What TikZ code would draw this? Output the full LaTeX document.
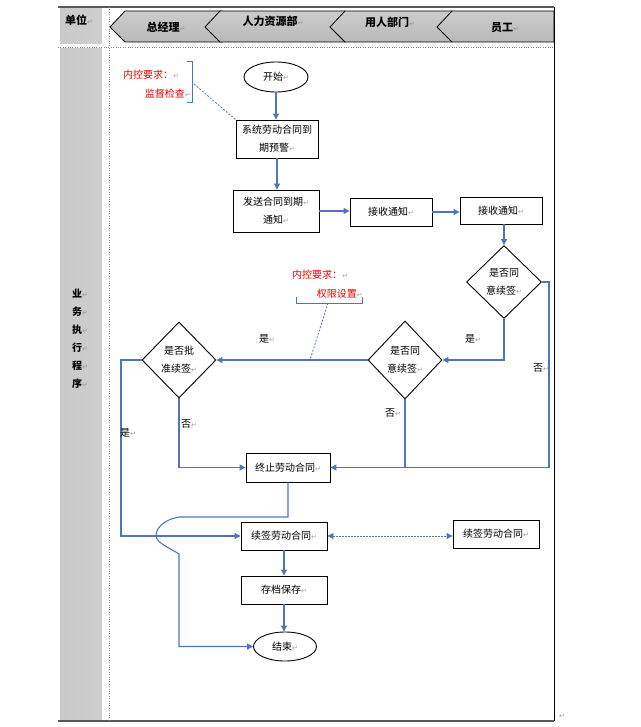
\documentclass[tikz,border=0pt]{standalone}
\usepackage{fontspec}
\setmainfont{Noto Sans CJK SC}
\newfontfamily\arrowfont{DejaVu Sans}
\usetikzlibrary{shapes.geometric,arrows.meta}
\definecolor{flowblue}{RGB}{79,116,190}
\definecolor{notered}{RGB}{240,0,0}
\newcommand{\parmark}{{\arrowfont\fontsize{7}{7}\selectfont\textcolor{gray!75}{↵}}}

\begin{document}
\begin{tikzpicture}[x=1pt,y=-1pt,
  every node/.style={inner sep=0pt, font=\fontsize{10}{18}\selectfont},
  proc/.style={draw=black, line width=0.9pt, rectangle, align=center},
  term/.style={draw=black, line width=0.9pt, ellipse, align=center},
  decide/.style={draw=black, line width=0.9pt, diamond, align=center},
  flow/.style={draw=flowblue, line width=1.1pt, -{Triangle[length=6pt,width=6pt]}},
  link/.style={draw=flowblue, line width=1.1pt},
  hint/.style={draw=flowblue, line width=0.8pt, dash pattern=on 2pt off 1.5pt},
  note/.style={text=notered},
  lane/.style={font=\bfseries\fontsize{11}{18}\selectfont},
  band/.style={left color=gray!42, middle color=gray!6, right color=gray!38},
  chevron/.style={draw=black, line width=0.8pt, top color=gray!40, middle color=gray!6, bottom color=gray!55}]
\useasboundingbox (0,0) rectangle (640,727);

\shade[band] (60,8) rectangle (102,44);
\shade[band] (60,49) rectangle (102,720);
\node[lane] (unit) at (79,20) {单位\parmark};
\node[lane, align=left, anchor=north, font=\bfseries\fontsize{10}{18}\selectfont] (stage) at (80,289)
  {业\parmark\\务\parmark\\执\parmark\\行\parmark\\程\parmark\\序\parmark};

\shadedraw[chevron] (110,27) -- (125,11) -- (222,11) -- (222,42) -- (125,42) -- cycle;
\shadedraw[chevron] (205,27) -- (220,11) -- (345,11) -- (345,42) -- (220,42) -- cycle;
\shadedraw[chevron] (330,27) -- (345,11) -- (452,11) -- (452,42) -- (345,42) -- cycle;
\shadedraw[chevron] (437,27) -- (452,11) -- (554,11) -- (554,42) -- (452,42) -- cycle;
\node[lane] (boss) at (166,27) {总经理\parmark};
\node[lane] (hr) at (273,21) {人力资源部\parmark};
\node[lane] (dept) at (390,22) {用人部门\parmark};
\node[lane] (staff) at (505,28) {员工\parmark};

\draw[gray!70!black, line width=1.2pt] (58,7) -- (554,7);
\draw[black, line width=0.8pt] (554,7) -- (554,721);
\draw[gray!70!black, line width=1.2pt] (58,721) -- (554,721);
\draw[gray, dotted] (109,7) -- (109,721);
\draw[gray, dotted] (58,47) -- (554,47);
\node (tail) at (562,716) {\parmark};

\node[term, minimum width=64, minimum height=30] (start) at (276,77) {开始\parmark};
\node[proc, minimum width=82, minimum height=38] (warn) at (277,139) {系统劳动合同到\\期预警\parmark};
\node[proc, minimum width=86, minimum height=42] (send) at (276,211) {发送合同到期\parmark\\通知\parmark};
\node[proc, minimum width=82, minimum height=28] (recvA) at (391,212) {接收通知\parmark};
\node[proc, minimum width=82, minimum height=27] (recvB) at (501,210.5) {接收通知\parmark};
\node[decide, minimum width=75, minimum height=73] (agree1) at (504,282) {是否同\\意续签\parmark};
\node[decide, minimum width=74, minimum height=78] (agree2) at (405,360) {是否同\\意续签\parmark};
\node[decide, minimum width=74, minimum height=76] (approve) at (179,360) {是否批\\准续签\parmark};
\node[proc, minimum width=84, minimum height=29] (stop) at (288,467.5) {终止劳动合同\parmark};
\node[proc, minimum width=86, minimum height=28] (renewA) at (284,536) {续签劳动合同\parmark};
\node[proc, minimum width=86, minimum height=28] (renewB) at (496,534) {续签劳动合同\parmark};
\node[proc, minimum width=86, minimum height=28] (archive) at (284,590) {存档保存\parmark};
\node[term, minimum width=63, minimum height=29] (finish) at (285,646.5) {结束\parmark};

\draw[flow] (start.south) -- (start.south |- warn.north);
\draw[flow] (warn.south) -- (warn.south |- send.north);
\draw[flow] (send.east) -- (send.east -| recvA.west);
\draw[flow] (recvA.east) -- (recvA.east -| recvB.west);
\draw[flow] (recvB.south -| agree1.north) -- (agree1.north);
\draw[flow] (agree1.south) |- (agree2.east);
\node (yes1) at (473,339) {是\parmark};
\coordinate (rimR) at (549,467.5);
\draw[flow] (agree1.east) -| (rimR) -- (stop.east);
\node (no1) at (541,368) {否\parmark};
\draw[flow] (agree2.west) -- (agree2.west -| approve.east);
\node (yes2) at (267,339) {是\parmark};
\draw[link] (agree2.south) -- (agree2.south |- stop.east);
\node (no2) at (393,413) {否\parmark};
\draw[flow] (approve.south) |- (stop.west);
\node (no3) at (189,424) {否\parmark};
\coordinate (rimL) at (121,360);
\draw[flow] (approve.west) -- (rimL) |- (renewA.west);
\node (yes3) at (128,433) {是\parmark};
\coordinate (hopA) at (179,517);
\coordinate (hopB) at (179,554);
\draw[flow] (stop.south) |- (hopA) .. controls (166,519) and (156,527) .. (156,535.5)
  .. controls (156,543) and (170,548) .. (hopB) |- (finish.west);
\draw[draw=flowblue, line width=0.9pt, dash pattern=on 1.5pt off 1.5pt,
  {Triangle[length=6pt,width=6pt]}-{Triangle[length=6pt,width=6pt]}] (renewA.east) -- (renewA.east -| renewB.west);
\draw[flow] (renewA.south) -- (archive.north);
\draw[flow] (archive.south) -- (archive.south |- finish.north);

\node[note, anchor=west] (reqA) at (123,75) {内控要求：\parmark};
\node[note, anchor=east] (checkA) at (191,94) {监督检查\parmark};
\draw[flowblue, line width=0.8pt] (187,61) -- (192,61) -- (192,102) -- (187,102);
\coordinate (braceA) at (194,84);
\draw[hint] (braceA) -- (warn.north west);
\node[note, anchor=west] (reqB) at (292,275) {内控要求：\parmark};
\node[note, anchor=east] (rightB) at (363,294) {权限设置\parmark};
\draw[flowblue, line width=0.8pt] (296,297) -- (296,303) -- (362,303) -- (362,297);
\coordinate (braceB) at (328,303);
\coordinate (tapB) at (310,360);
\draw[hint] (braceB) -- (tapB);
\end{tikzpicture}
\end{document}
